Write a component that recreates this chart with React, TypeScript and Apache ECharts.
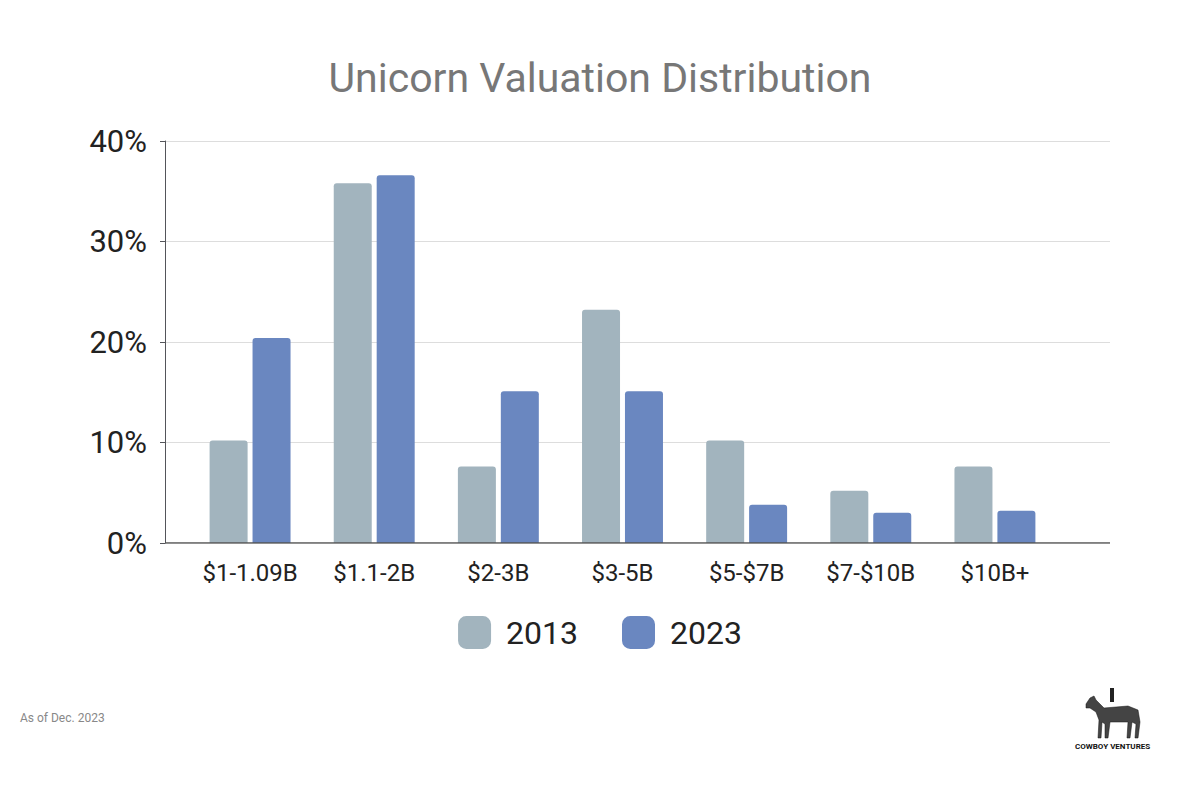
import * as echarts from 'echarts';
import { useEffect, useRef } from 'react';

const categories = ['$1-1.09B', '$1.1-2B', '$2-3B', '$3-5B', '$5-$7B', '$7-$10B', '$10B+'];
const values2013 = [10.2, 35.8, 7.6, 23.2, 10.2, 5.2, 7.6];
const values2023 = [20.4, 36.6, 15.1, 15.1, 3.8, 3.0, 3.2];

// rough zebra silhouette for the logo (local units ~58 x 46)
const zebraPath =
  'M2 12 L6 6 L10 4 L12 8 L20 16 L44 14 L54 18 L56 30 L54 46 L51 46 L52 32 L48 30 L46 46 L43 46 L44 30 L26 30 L24 46 L21 46 L21 32 L18 30 L17 46 L14 46 L15 28 L12 20 L6 16 L2 16 Z';
echarts.graphic.registerShape('zebra', echarts.graphic.extendPath(zebraPath, {}));

export default function App() {
  const chartRef = useRef<HTMLDivElement>(null);

  useEffect(() => {
    if (!chartRef.current) return;
    const chart = echarts.init(chartRef.current, null, { renderer: 'svg' });
    const barItem = (color: string) => ({ color, borderRadius: [3, 3, 0, 0] });

    chart.setOption({
      animation: false,
      backgroundColor: '#ffffff',
      textStyle: { fontFamily: 'Roboto' },
      title: {
        text: 'Unicorn Valuation Distribution',
        left: 'center',
        top: 44,
        textStyle: { color: '#777777', fontSize: 41, fontWeight: 'normal', fontFamily: 'Roboto' },
      },
      grid: [
        { left: 180, right: 135, top: 133, bottom: 249 },
        { left: 157, right: 82, top: 133, bottom: 249 },
      ],
      legend: {
        top: 603,
        left: 'center',
        itemWidth: 33,
        itemHeight: 33,
        itemGap: 44,
        icon: 'roundRect',
        textStyle: { fontSize: 32, color: '#222', padding: [0, 0, 0, 10] },
        data: ['2013', '2023'],
      },
      xAxis: [
        {
          type: 'category',
          gridIndex: 0,
          data: categories,
          axisTick: { show: false },
          axisLine: { show: false },
          axisLabel: { fontSize: 24, color: '#222', margin: 18, interval: 0, hideOverlap: false },
        },
        { type: 'value', gridIndex: 1, show: false, min: 0, max: 1 },
      ],
      yAxis: [
        { type: 'value', gridIndex: 0, min: 0, max: 40, interval: 10, show: false },
        {
          type: 'value',
          gridIndex: 1,
          min: 0,
          max: 40,
          interval: 10,
          axisLabel: { fontSize: 31, color: '#222', margin: 18, formatter: '{value}%' },
          splitLine: { lineStyle: { color: '#dddddd' } },
        },
      ],
      series: [
        { name: '2013', type: 'bar', data: values2013, barWidth: 38, barGap: '13%', itemStyle: barItem('#a2b4be') },
        { name: '2023', type: 'bar', data: values2023, barWidth: 38, itemStyle: barItem('#6a87c0') },
        {
          type: 'line',
          xAxisIndex: 1,
          yAxisIndex: 1,
          data: [[0, 0], [1, 0]],
          symbol: 'none',
          silent: true,
          lineStyle: { color: '#555', width: 1.5 },
        },
      ],
      graphic: [
        {
          type: 'text',
          left: 12,
          top: 704,
          style: { text: 'As of Dec. 2023', fontSize: 12, fill: '#888', fontFamily: 'Roboto' },
        },
        {
          type: 'text',
          left: 1067,
          top: 734,
          style: { text: 'COWBOY VENTURES', fontSize: 8, fontWeight: 'bold', fill: '#111', fontFamily: 'Roboto' },
        },
        {
          type: 'zebra',
          x: 1076,
          y: 684,
          scaleX: 1,
          scaleY: 1,
          style: { fill: '#444', stroke: '#111', lineWidth: 0.5 },
        },
        { type: 'rect', shape: { x: 1102, y: 680, width: 4, height: 14 }, style: { fill: '#222' } },
      ],
    });
    return () => chart.dispose();
  }, []);

  return <div ref={chartRef} style={{ width: 1184, height: 784 }} />;
}
